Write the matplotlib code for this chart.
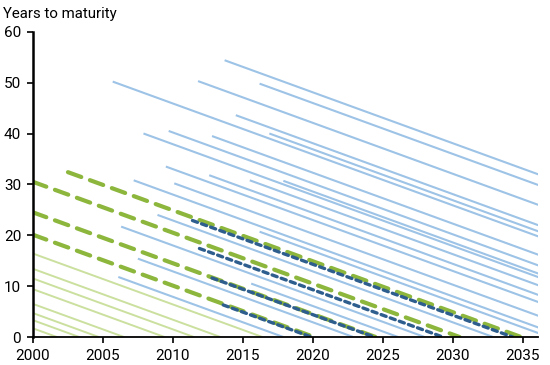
import matplotlib
matplotlib.use('Agg')
import matplotlib.pyplot as plt

plt.rcParams['font.family'] = ['Roboto', 'DejaVu Sans']

# (issue year, years to maturity at issue)
short_year = [2000, 2000, 2000, 2000, 2000, 2000, 2000, 2000]
short_mat = [16.4, 13.4, 11.5, 9.4, 6.5, 4.7, 3.3, 1.7]

blue_year = [2013.7, 2005.7, 2011.8, 2016.2, 2014.5, 2016.9, 2009.7, 2007.9,
             2012.8, 2009.5, 2007.2, 2010.1, 2012.6, 2015.5, 2017.9, 2008.9,
             2016.2, 2006.3, 2007.5, 2006.1, 2015.6]
blue_mat = [54.4, 50.2, 50.3, 49.8, 43.6, 40.0, 40.5, 40.0,
            39.5, 33.5, 30.8, 30.2, 31.8, 30.8, 30.7, 24.0,
            20.7, 21.7, 15.4, 11.8, 10.5]

green_year = [2000, 2000, 2000, 2002.5]
green_mat = [30.5, 24.5, 20.1, 32.4]

dark_year = [2011.4, 2011.9, 2012.8, 2013.6]
dark_mat = [22.9, 17.4, 11.6, 6.3]

fig = plt.figure(figsize=(5.5, 3.65), dpi=100)
ax = fig.add_axes([0.06, 0.0767, 0.918, 0.8363])


def draw(years, mats, **kw):
    for y0, m in zip(years, mats):
        ax.plot([y0, y0 + m], [m, 0], **kw)


draw(short_year, short_mat, color='#cbe09e', lw=1.4, solid_capstyle='butt')
draw(blue_year, blue_mat, color='#9dc3e6', lw=1.5, solid_capstyle='butt')
draw(green_year, green_mat, color='#8cb63c', lw=3.0, dashes=(3.4, 2.2),
     dash_capstyle='round')
draw(dark_year, dark_mat, color='#2e5e8e', lw=2.4, dashes=(1.6, 1.3),
     dash_capstyle='round')

ax.set_xlim(2000, 2036.1)
ax.set_ylim(0, 60)
ax.set_xticks(range(2000, 2036, 5))
ax.set_yticks(range(0, 61, 10))
ax.spines['top'].set_visible(False)
ax.spines['right'].set_visible(False)
ax.spines['left'].set_linewidth(1.8)
ax.spines['bottom'].set_linewidth(1.3)
ax.tick_params(axis='both', labelsize=11, direction='out', length=4,
               width=1.2, colors='black')
ax.tick_params(axis='y', pad=4.5)
ax.tick_params(axis='x', pad=4.5)

fig.text(0.005, 0.962, 'Years to maturity', fontsize=10.8, ha='left', va='center')

plt.savefig('out.png', dpi=100)
plt.close(fig)
